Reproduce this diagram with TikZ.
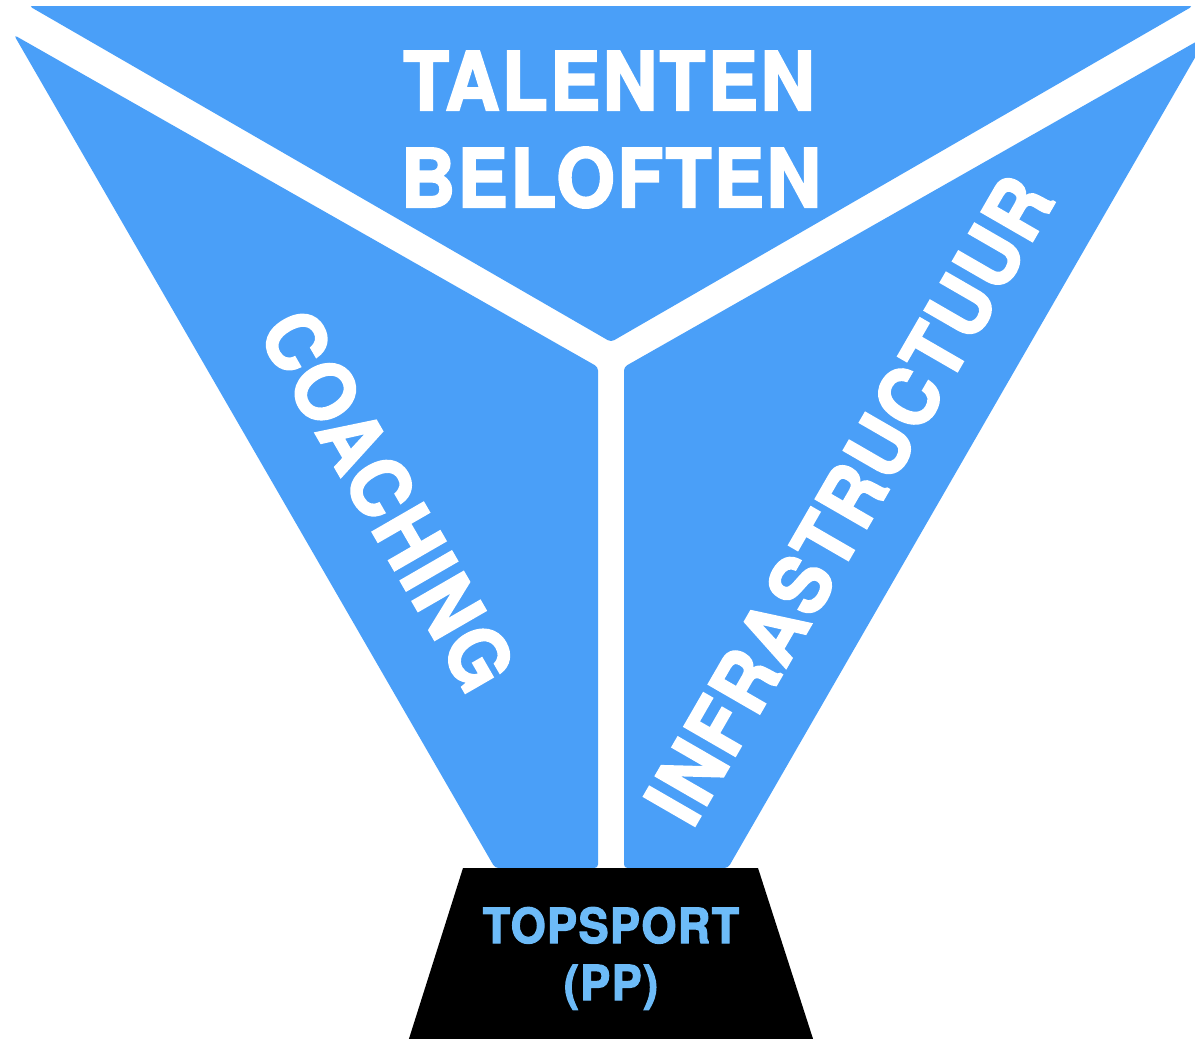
\documentclass[tikz,border=0pt]{standalone}
\usepackage{fontspec}
\usepackage{tikz}
\newfontfamily\funnelfont{texgyreheros-bold.otf}[FakeStretch=0.93, FakeBold=2.5, LetterSpace=3]
\definecolor{funnelblue}{HTML}{4A9FF8}
\definecolor{podiumblue}{HTML}{6DBBF8}
\newcommand{\bigsize}{\fontsize{46}{46}\selectfont}
\newcommand{\smallsize}{\fontsize{27.5}{27.5}\selectfont}

\begin{document}
\begin{tikzpicture}[scale=0.2]
\tikzstyle{every node}+=[inner sep=0pt]
\tikzstyle{part}=[fill=funnelblue, rounded corners=2pt]
\tikzstyle{bigtext}=[text=white, font=\funnelfont\bigsize]
\tikzstyle{podtext}=[text=podiumblue, font=\funnelfont\smallsize]
\useasboundingbox (0,0) rectangle (119.5,-103.9);
\clip (0,0) rectangle (119.5,-103.9);
\fill [part] (2.9,-0.6) -- (119.3,-0.6) -- (61.1,-34.2) -- cycle;
\fill [part] (1.4,-3.5) -- (59.8,-36.7) -- (59.8,-86.8) -- (49.5,-86.8) -- cycle;
\fill [part] (120.8,-3.5) -- (62.4,-36.7) -- (62.4,-86.8) -- (72.8,-86.8) -- cycle;
\fill [black] (46.3,-86.8) -- (75.8,-86.8) -- (81.5,-104.5) -- (40.7,-104.5) -- cycle;
\draw (60.9,-11.0) node (talenten) [bigtext, anchor=base] {TALENTEN};
\draw (61.1,-20.7) node (beloften) [bigtext, anchor=base] {BELOFTEN};
\draw (38.8,-50.0) node (coaching) [bigtext, rotate=-60] {COACHING};
\draw (84.9,-50.0) node (infra) [bigtext, rotate=60] {INFRASTRUCTUUR};
\draw (61.1,-94.3) node (topsport) [podtext, anchor=base] {TOPSPORT};
\draw (61.1,-100.0) node (pp) [podtext, anchor=base] {(PP)};
\end{tikzpicture}
\end{document}
